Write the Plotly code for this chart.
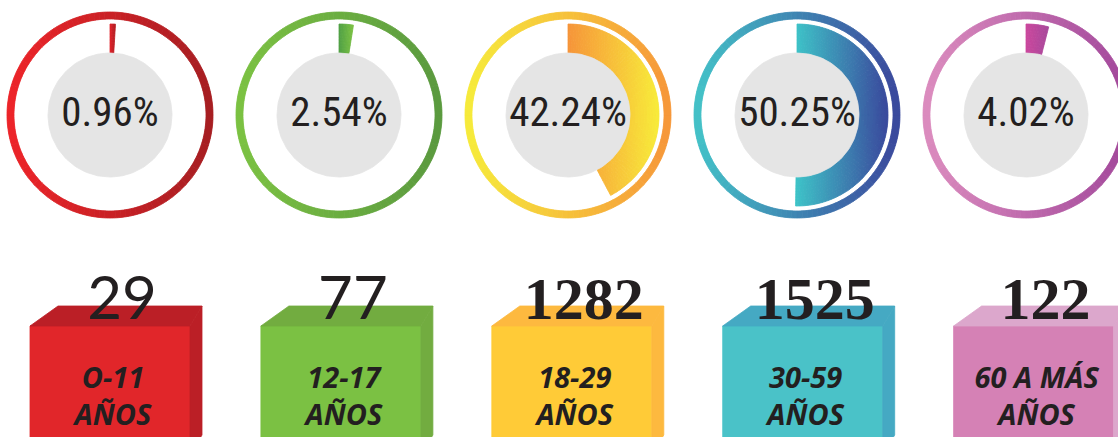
import numpy as np
import plotly.graph_objects as go

# ---------------- data ----------------
age_groups = ["O-11 AÑOS", "12-17 AÑOS", "18-29 AÑOS", "30-59 AÑOS", "60 A MÁS AÑOS"]
counts = [29, 77, 1282, 1525, 122]
percentages = [0.96, 2.54, 42.24, 50.25, 4.02]

# ---------------- style ----------------
ring_colors = [("#EE2429", "#A51E22"), ("#7CC242", "#5A993F"), ("#F6EC3B", "#F6963A"),
               ("#44C3C8", "#3A479C"), ("#DC8DBF", "#A2479A")]
wedge_colors = [("#E6232A", "#B01E24"), ("#4F9F45", "#7CC243"), ("#F6943A", "#F8EC3A"),
                ("#3EC4C8", "#3A489C"), ("#CC489D", "#A7489B")]
box_front = ["#E1262A", "#7BC143", "#FFCB37", "#4AC2C8", "#D581B5"]
box_side = ["#BB1F26", "#72AC40", "#FDB93F", "#45A9C3", "#DCA7CC"]
serif_numbers = [False, False, True, True, True]
TEXT = "#231F20"

W, H = 1118, 437
CX0, DCX, CY = 110, 229, 115
R_RING_OUT, R_RING_IN = 103, 96
R_GRAY = 62
R_W_IN, R_W_OUT = 62, 91
BOX_L0, BOX_DX, BOX_W = 30, 230.9, 160
BOX_TOP, BOX_BOT = 326, 455
DEPTH_LX, DEPTH_RX, DEPTH_Y = 28, 12, 20


def hex2rgb(h):
    h = h.lstrip("#")
    return [int(h[i:i + 2], 16) for i in (0, 2, 4)]


def mix(c1, c2, t):
    a, b = hex2rgb(c1), hex2rgb(c2)
    return "rgb(%d,%d,%d)" % tuple(round(a[k] + (b[k] - a[k]) * t) for k in range(3))


def pt(cx, cy, r, deg):
    t = np.radians(deg)
    return cx + r * np.sin(t), cy - r * np.cos(t)


def grad_sector(cx, cy, r0, r1, a0, a1, c_left, c_right, n_r, step=1.0, levels=40):
    n_a = max(1, int(np.ceil((a1 - a0) / step)))
    angs = np.linspace(a0, a1, n_a + 1)
    rads = np.linspace(r0, r1, n_r + 1)
    samp = [pt(cx, cy, r, a)[0] for r in (r0, r1) for a in np.linspace(a0, a1, 200)]
    xmin, xmax = min(samp), max(samp)
    groups = {}
    for i in range(n_a):
        for j in range(n_r):
            corners = [(rads[j], angs[i]), (rads[j + 1], angs[i]),
                       (rads[j + 1], angs[i + 1]), (rads[j], angs[i + 1])]
            xs, ys = zip(*[pt(cx, cy, r, a) for r, a in corners])
            t = (np.mean(xs) - xmin) / max(xmax - xmin, 1e-9)
            lvl = int(round(np.clip(t, 0, 1) * (levels - 1)))
            gx, gy = groups.setdefault(lvl, ([], []))
            gx.extend(list(xs) + [xs[0], None])
            gy.extend(list(ys) + [ys[0], None])
    out = []
    for lvl, (gx, gy) in sorted(groups.items()):
        col = mix(c_left, c_right, lvl / (levels - 1))
        out.append(go.Scatter(x=gx, y=gy, mode="lines", fill="toself", fillcolor=col,
                              line=dict(color=col, width=0.8), hoverinfo="skip",
                              showlegend=False))
    return out


def poly(xs, ys, color):
    return go.Scatter(x=list(xs) + [xs[0]], y=list(ys) + [ys[0]], mode="lines",
                      fill="toself", fillcolor=color, line=dict(color=color, width=0.8),
                      hoverinfo="skip", showlegend=False)


fig = go.Figure()
cxs = [CX0 + i * DCX for i in range(len(age_groups))]

for i, pct in enumerate(percentages):
    cx = cxs[i]
    for tr in grad_sector(cx, CY, R_RING_IN, R_RING_OUT, 0, 360, *ring_colors[i], n_r=1):
        fig.add_trace(tr)
    for tr in grad_sector(cx, CY, R_W_IN, R_W_OUT, 0, pct * 3.6, *wedge_colors[i], n_r=10):
        fig.add_trace(tr)
    ang = np.linspace(0, 360, 181)
    gx, gy = zip(*[pt(cx, CY, R_GRAY, a) for a in ang])
    fig.add_trace(poly(gx, gy, "#E5E5E5"))

fig.add_trace(go.Scatter(
    x=cxs, y=[CY + 1] * len(cxs), mode="text",
    text=["%.2f%%" % p for p in percentages],
    textfont=dict(family="Liberation Sans Narrow, Roboto Condensed, Noto Sans", size=41, color=TEXT),
    textposition="middle center", hoverinfo="skip", showlegend=False))

# boxes
for i in range(len(age_groups)):
    L = BOX_L0 + i * BOX_DX
    R = L + BOX_W
    fig.add_trace(poly([L, R, R, L], [BOX_TOP, BOX_TOP, BOX_BOT, BOX_BOT], box_front[i]))
    fig.add_trace(poly([L, L + DEPTH_LX, R + DEPTH_RX, R],
                       [BOX_TOP, BOX_TOP - DEPTH_Y, BOX_TOP - DEPTH_Y, BOX_TOP], box_side[i]))
    fig.add_trace(poly([R, R + DEPTH_RX, R + DEPTH_RX, R],
                       [BOX_TOP, BOX_TOP - DEPTH_Y, BOX_BOT - 20, BOX_BOT], box_side[i]))

box_centers = [BOX_L0 + i * BOX_DX + BOX_W / 2 for i in range(len(age_groups))]

for is_serif in (False, True):
    idx = [k for k in range(len(counts)) if serif_numbers[k] == is_serif]
    fig.add_trace(go.Scatter(
        x=[box_centers[k] + 12 for k in idx], y=[304] * len(idx), mode="text",
        text=[str(counts[k]) for k in idx],
        textfont=dict(family="Liberation Serif" if is_serif else "Lato, Open Sans, sans-serif",
                      size=60, color=TEXT,
                      weight="bold" if is_serif else "normal"),
        textposition="middle center", hoverinfo="skip", showlegend=False))

label_lines = [g.rsplit(" ", 1) for g in age_groups]
for line_no, ypos in ((0, 381), (1, 418)):
    fig.add_trace(go.Scatter(
        x=[c + 3 for c in box_centers], y=[ypos] * len(age_groups), mode="text",
        text=[parts[line_no] for parts in label_lines],
        textfont=dict(family="Noto Sans", size=29, color=TEXT, weight="bold", style="italic"),
        textposition="middle center", hoverinfo="skip", showlegend=False))

fig.update_layout(
    width=W, height=H, margin=dict(l=0, r=0, t=0, b=0),
    paper_bgcolor="white", plot_bgcolor="white", showlegend=False,
    xaxis=dict(range=[0, W], visible=False, fixedrange=True),
    yaxis=dict(range=[H, 0], visible=False, fixedrange=True),
)
fig.write_html("out.html", config={"displayModeBar": False},
               post_script="document.body.style.margin='0';document.body.style.overflow='hidden';")
